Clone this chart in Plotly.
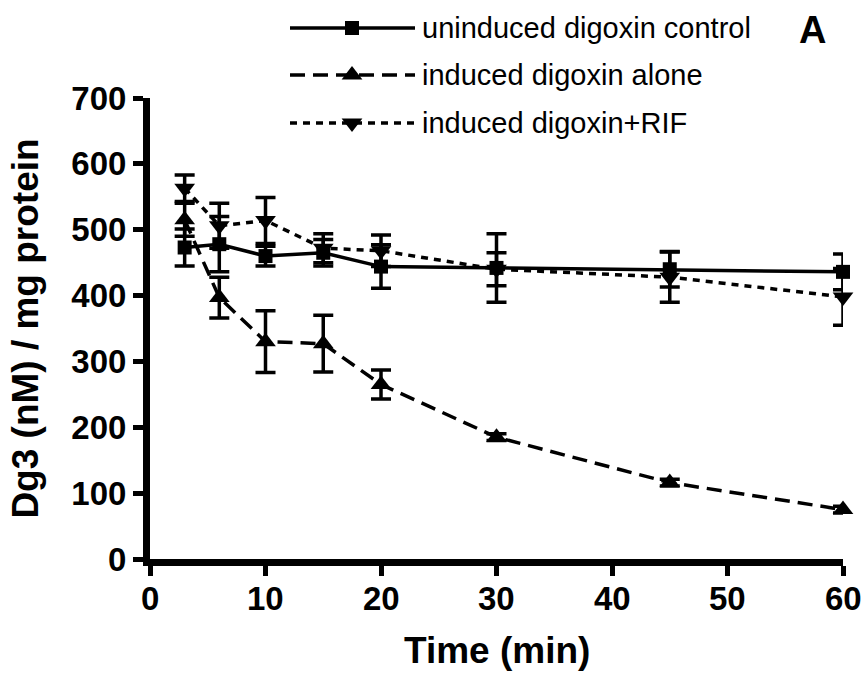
import plotly.graph_objects as go

W, H = 867, 675

time_min = [3, 6, 10, 15, 20, 30, 45, 60]

uninduced = [473, 478, 460, 465, 444, 442, 440, 436]
uninduced_err = [28, 42, 15, 20, 33, 52, 27, 27]

induced_alone = [515, 397, 330, 327, 265, 185, 116, 75]
induced_alone_err = [25, 31, 47, 43, 22, 5, 5, 5]

induced_rif = [563, 506, 514, 472, 468, 440, 428, 398]
induced_rif_err = [20, 34, 35, 22, 24, 25, 38, 43]

series_names = ["uninduced digoxin control", "induced digoxin alone", "induced digoxin+RIF"]
x_ticks = [0, 10, 20, 30, 40, 50, 60]
y_ticks = [0, 100, 200, 300, 400, 500, 600, 700]
x_title = "Time (min)"
y_title = "Dg3 (nM) / mg protein"

FONT = "Arial, Liberation Sans, Helvetica, sans-serif"
styles = [
    dict(symbol="square", size=14, dash="solid"),
    dict(symbol="triangle-up", size=18, dash="15px,8px"),
    dict(symbol="triangle-down", size=18, dash="7px,6px"),
]
values = [uninduced, induced_alone, induced_rif]
errors = [uninduced_err, induced_alone_err, induced_rif_err]

fig = go.Figure()
for name, vals, errs, st in zip(series_names, values, errors, styles):
    fig.add_trace(go.Scatter(
        x=time_min, y=vals, name=name, mode="lines+markers",
        line=dict(color="black", width=3.5, dash=st["dash"]),
        marker=dict(symbol=st["symbol"], size=st["size"], color="black"),
        error_y=dict(type="data", array=errs, visible=True, color="black",
                     thickness=3.5, width=10),
        cliponaxis=False, showlegend=False,
    ))

# custom legend (Prism style) on a separate full-figure axis measured in pixels
legend_rows = [28, 75, 123]
legend_line_x = [290, 415]
legend_marker_x = 352
legend_text_x = 420
for name, row, st in zip(series_names, legend_rows, styles):
    fig.add_trace(go.Scatter(
        x=legend_line_x, y=[row, row], mode="lines",
        line=dict(color="black", width=3.5, dash=st["dash"]),
        xaxis="x2", yaxis="y2", showlegend=False, hoverinfo="skip",
        cliponaxis=False,
    ))
    fig.add_trace(go.Scatter(
        x=[legend_marker_x], y=[row], mode="markers",
        marker=dict(symbol=st["symbol"], size=st["size"], color="black",
                    line=dict(width=0)),
        xaxis="x2", yaxis="y2", showlegend=False, hoverinfo="skip",
        cliponaxis=False,
    ))
    fig.add_annotation(x=legend_text_x, y=row, xref="x2", yref="y2", text=name,
                       showarrow=False, xanchor="left", yanchor="middle",
                       font=dict(family=FONT, size=29, color="black"))

fig.add_annotation(x=812, y=30, xref="x2", yref="y2", text="A",
                   showarrow=False, xanchor="center", yanchor="middle",
                   font=dict(family=FONT, size=38, color="black", weight="bold"))

tick_font = dict(family=FONT, size=33, color="black", weight="bold")
title_font = dict(family=FONT, size=37, color="black", weight="bold")

# x tick labels placed on the data x-axis, with Prism-like gap below the ticks
for t in x_ticks:
    fig.add_annotation(x=t, y=598, xref="x", yref="y2", text=str(t),
                       showarrow=False, xanchor="center", yanchor="middle",
                       font=tick_font)

# x-axis title under the tick labels
fig.add_annotation(x=497, y=650, xref="x2", yref="y2", text=x_title,
                   showarrow=False, xanchor="center", yanchor="middle",
                   font=title_font)

fig.update_layout(
    template="none",
    width=W, height=H,
    margin=dict(l=0, r=0, t=0, b=0, pad=0),
    paper_bgcolor="white", plot_bgcolor="rgba(0,0,0,0)",
    font=dict(family=FONT, color="black"),
    xaxis=dict(
        domain=[150 / W, 843 / W], range=[0, 60], automargin=False,
        tickvals=x_ticks, ticks="outside", ticklen=10, tickwidth=5, tickcolor="black",
        showline=True, linewidth=7, linecolor="black",
        showgrid=False, zeroline=False, showticklabels=False,
    ),
    yaxis=dict(
        domain=[(H - 559) / H, (H - 98) / H], range=[0, 700], automargin=False,
        tickvals=y_ticks, ticks="outside", ticklen=10, tickwidth=5, tickcolor="black",
        showline=True, linewidth=7, linecolor="black",
        showgrid=False, zeroline=False,
        tickfont=tick_font,
        title=dict(text=y_title, font=title_font, standoff=24),
    ),
    xaxis2=dict(domain=[0, 1], range=[0, W], visible=False, fixedrange=True,
                anchor="y2", automargin=False),
    yaxis2=dict(domain=[0, 1], range=[H, 0], visible=False, fixedrange=True,
                anchor="x2", automargin=False),
)

fig.write_html("out.html")
